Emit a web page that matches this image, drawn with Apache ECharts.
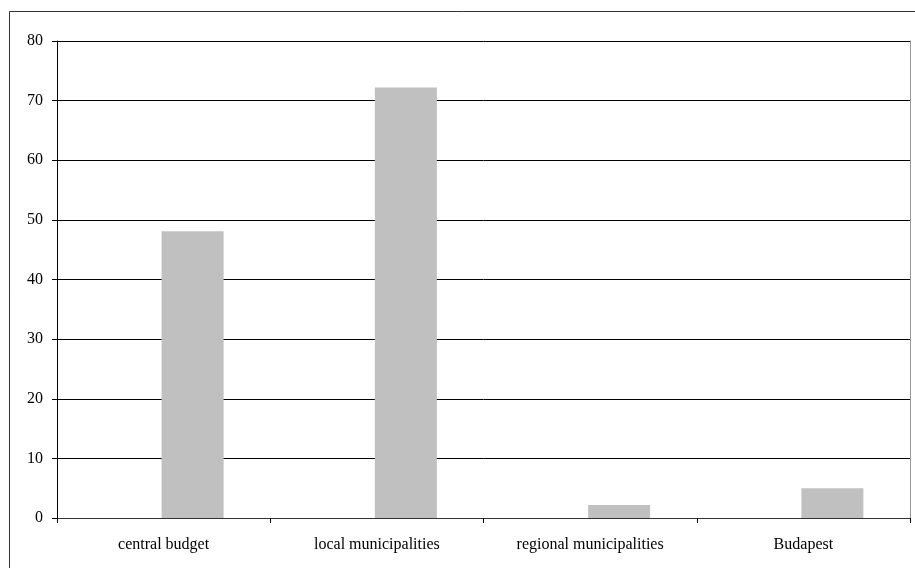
<!DOCTYPE html>
<html>
<head>
<meta charset="utf-8">
<script src="https://cdn.jsdelivr.net/npm/echarts@6/dist/echarts.min.js"></script>
<style>
html,body{margin:0;padding:0;background:#fff;}
#chart{width:915px;height:568px;}
</style>
</head>
<body>
<div id="chart"></div>
<script>
var categories = ['central budget', 'local municipalities', 'regional municipalities', 'Budapest'];
var placeholderValues = [0, 0, 0, 0];
var values = [48.1, 72.2, 2.2, 5.0];
var yTicks = [0, 10, 20, 30, 40, 50, 60, 70, 80];

var chart = echarts.init(document.getElementById('chart'));
var font = '"Liberation Serif", "Times New Roman", serif';
chart.setOption({
  animation: false,
  backgroundColor: '#fff',
  graphic: [{
    type: 'rect',
    shape: {x: 9.5, y: 11.5, width: 920, height: 570},
    style: {fill: 'none', stroke: '#333', lineWidth: 1},
    silent: true
  }],
  grid: {left: 57, right: 5, top: 41, bottom: 50, containLabel: false},
  xAxis: {
    type: 'category',
    data: categories,
    axisLine: {lineStyle: {color: '#333', width: 1}},
    axisTick: {show: true, length: 5, inside: false, lineStyle: {color: '#000'}},
    axisLabel: {color: '#000', fontFamily: font, fontSize: 16, margin: 19}
  },
  yAxis: [{
    type: 'value',
    min: yTicks[0],
    max: yTicks[yTicks.length - 1],
    interval: 10,
    axisLine: {show: true, lineStyle: {color: '#000', width: 1}},
    axisTick: {show: true, length: 5, lineStyle: {color: '#000'}},
    axisLabel: {color: '#000', fontFamily: font, fontSize: 16, margin: 14},
    splitLine: {show: true, lineStyle: {color: '#000', width: 1}}
  }, {
    type: 'value',
    position: 'right',
    min: yTicks[0],
    max: yTicks[yTicks.length - 1],
    interval: 10,
    axisLine: {show: true, lineStyle: {color: '#999', width: 1}},
    axisTick: {show: false},
    axisLabel: {show: false},
    splitLine: {show: false}
  }],
  series: [{
    type: 'bar',
    data: placeholderValues,
    barWidth: 62,
    barGap: '-6.5%',
    itemStyle: {color: 'rgba(0,0,0,0)'},
    silent: true
  }, {
    type: 'bar',
    data: values,
    barWidth: 62,
    barGap: '-6.5%',
    itemStyle: {color: '#c0c0c0'}
  }]
});
</script>
</body>
</html>
